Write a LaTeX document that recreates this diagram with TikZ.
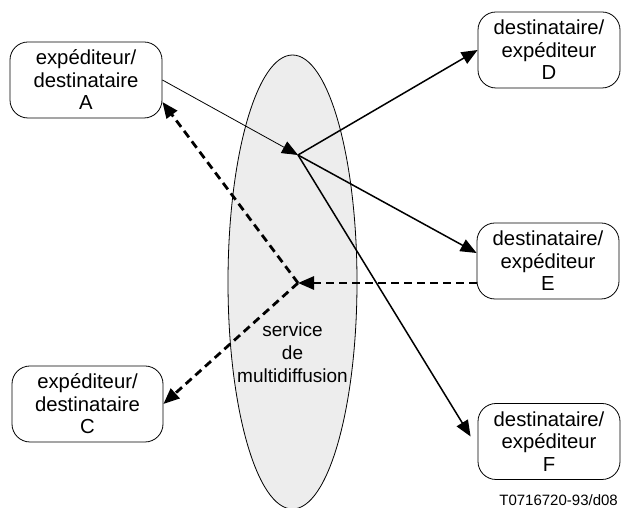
\documentclass[tikz,border=0pt]{standalone}
\usepackage{fontspec}
\setmainfont{Liberation Sans}
\usetikzlibrary{arrows.meta,shapes.geometric}
\begin{document}
\begin{tikzpicture}[x=1pt,y=1pt,
  party/.style={draw,rounded corners=18pt,minimum height=76pt,align=center,
    font=\fontsize{20.3pt}{22.5pt}\selectfont,line width=0.8pt,inner sep=0pt},
  tip/.style={-{Triangle[length=16pt,width=13pt]}},
  thinarrow/.style={tip,line width=0.8pt},
  solidarrow/.style={tip,line width=1.5pt},
  dasharrow/.style={tip,line width=2.8pt,dash pattern=on 8pt off 5pt}]
\useasboundingbox (0,0) rectangle (621,508);
\fill[white] (0,0) rectangle (621,508);
\node[ellipse,draw,fill=black!7,line width=0.8pt,minimum width=129pt,minimum height=454pt,inner sep=0pt] (S) at (292.5,226) {};
\node[align=center,font=\fontsize{19pt}{23pt}\selectfont] (St) at (292.5,155) {service\\de\\multidiffusion};
\node[party,minimum width=152pt] (A) at (86,428) {expéditeur/\\destinataire\\A};
\node[party,minimum width=151pt] (C) at (87.5,104) {expéditeur/\\destinataire\\C};
\node[party,minimum width=142pt] (D) at (549,458) {destinataire/\\expéditeur\\D};
\node[party,minimum width=142pt] (E) at (548,247) {destinataire/\\expéditeur\\E};
\node[party,minimum width=142pt] (F) at (549,66.5) {destinataire/\\expéditeur\\F};
\coordinate (P1) at (298,353);
\coordinate (P2) at (298,225);
\draw[thinarrow] (A.east) -- (P1);
\draw[solidarrow] (P1) -- (D.west);
\draw[solidarrow] (P1) -- ([yshift=8pt]E.west);
\draw[solidarrow] (P1) -- ([xshift=-7pt,yshift=5pt]F.west);
\draw[dasharrow] ([yshift=-22pt]E.west) -- (P2);
\draw[dasharrow] (P2) -- ([yshift=-22pt]A.east);
\draw[dasharrow] (P2) -- (C.east);
\node[anchor=east,font=\fontsize{15pt}{17pt}\selectfont,inner sep=0pt] (L) at (618,7.5) {T0716720-93/d08};
\end{tikzpicture}
\end{document}
